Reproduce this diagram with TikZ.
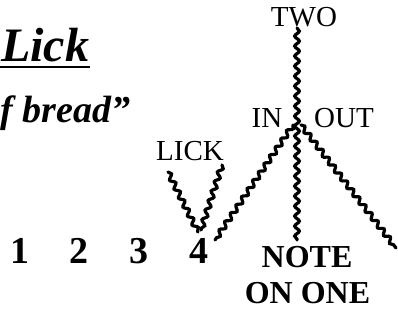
\documentclass[tikz,border=0pt]{standalone}
\usepackage{fontspec}
\setmainfont{Liberation Serif}
\usetikzlibrary{decorations.pathmorphing}
\tikzset{
  wavy/.style={line width=3.2pt, line cap=round, decorate, decoration={snake, amplitude=2.3pt, segment length=10pt}},
  reg/.style={inner sep=0pt, font=\fontsize{29}{31}\selectfont},
  num/.style={inner sep=0pt, font=\fontsize{38}{40}\selectfont\bfseries},
  note/.style={inner sep=0pt, font=\fontsize{32}{36}\selectfont\bfseries, align=center},
}
\begin{document}
\begin{tikzpicture}[x=1pt,y=-1pt]
\useasboundingbox (0,0) rectangle (398,320);
% title
\node[inner sep=0pt, anchor=base west, font=\fontsize{48}{50}\selectfont\bfseries\itshape] (title) at (1,62) {Lick};
\coordinate (ul1) at (0,67);
\coordinate (ul2) at (90,67);
\draw[line width=2pt] (ul1) -- (ul2);
\node[inner sep=0pt, anchor=base west, font=\fontsize{38}{40}\selectfont\bfseries\itshape] (sub) at (0,123) {f bread\symbol{34}};
% labels
\node[reg, anchor=base] (two) at (304,27) {TWO};
\node[reg, anchor=base] (in) at (267,128) {IN};
\node[reg, anchor=base] (out) at (344,128) {OUT};
\node[reg, anchor=base] (lick) at (190,161) {LICK};
% numbers
\node[num, anchor=base] (n1) at (20,263) {1};
\node[num, anchor=base] (n2) at (79,263) {2};
\node[num, anchor=base] (n3) at (139,263) {3};
\node[num, anchor=base] (n4) at (199,263) {4};
% note
\node[note, anchor=base] (note1) at (307,267) {NOTE};
\node[note, anchor=base] (note2) at (307.5,303) {ON ONE};
% wavy lines
\coordinate (top) at (297,28);
\coordinate (bot) at (297,240);
\coordinate (jl) at (293,125);
\coordinate (jr) at (301,125);
\coordinate (lb) at (215,240);
\coordinate (rb) at (396,248);
\coordinate (l1) at (168,172);
\coordinate (l2) at (222,165);
\coordinate (v1) at (198,232);
\coordinate (v2) at (201,230);
\draw[wavy] (top) -- (bot);
\draw[wavy] (jl) -- (lb);
\draw[wavy] (jr) -- (rb);
\draw[wavy] (l1) -- (v1);
\draw[wavy] (l2) -- (v2);
\end{tikzpicture}
\end{document}
